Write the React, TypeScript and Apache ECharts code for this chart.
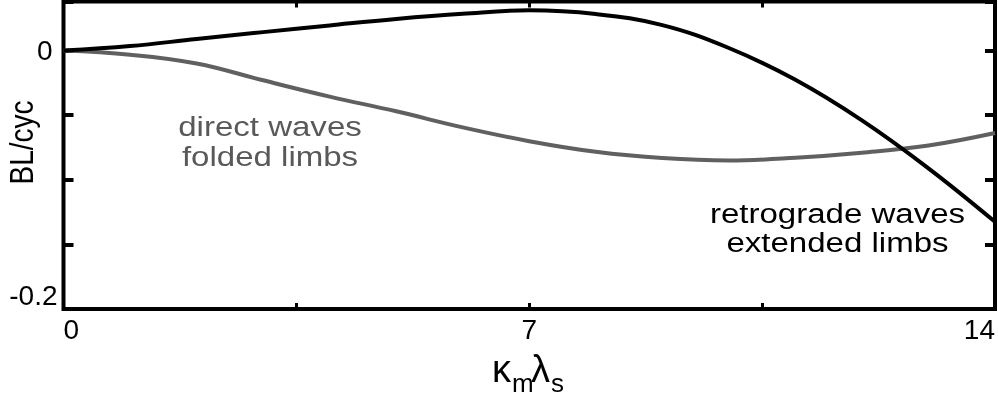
import React, { useEffect, useRef } from "react";
import * as echarts from "echarts";

const kmls = [0, 1, 2, 3, 4, 5, 6, 7, 8, 9, 10, 11, 12, 13, 14];
const retrogradeBL = [0, 0.0035, 0.009, 0.0143, 0.0195, 0.0245, 0.0285, 0.0312, 0.0283, 0.0197, 0.002, -0.0226, -0.054, -0.0911, -0.1325];
const directBL = [0, -0.0032, -0.01, -0.023, -0.0356, -0.047, -0.0594, -0.0701, -0.0783, -0.0832, -0.0851, -0.083, -0.0791, -0.0735, -0.0638];
const xLabelValues = [0, 7, 14];
const yLabelValues = [0, -0.2];

const FONT = "'Liberation Sans', Arial, Helvetica, sans-serif";

export default function App() {
  const ref = useRef<HTMLDivElement>(null);
  useEffect(() => {
    if (!ref.current) return;
    const chart = echarts.init(ref.current, null, { renderer: "svg" });
    const tickStyleX = { show: true, inside: true, length: 6, lineStyle: { color: "#000", width: 3 } };
    const tickStyleY = { show: true, inside: true, length: 10, lineStyle: { color: "#000", width: 4 } };
    const nameMain = { fontSize: 38, fontFamily: FONT, fill: "#000", align: "left", verticalAlign: "middle" };
    const nameSub = { fontSize: 26, fontFamily: FONT, fill: "#000", align: "left", verticalAlign: "middle" };
    const option: any = {
      animation: false,
      grid: {
        left: 63.5, right: 3, top: 1.5, bottom: 97,
        show: true, borderColor: "#000", borderWidth: 4, backgroundColor: "transparent",
        outerBoundsMode: "none",
      },
      xAxis: [
        {
          type: "value", min: 0, max: 14, interval: 3.5, position: "bottom",
          axisLine: { show: false, onZero: false },
          axisTick: tickStyleX,
          splitLine: { show: false },
          axisLabel: {
            show: true, margin: 6, fontSize: 28, fontFamily: FONT, color: "#000",
            alignMinLabel: "left", alignMaxLabel: "right",
            formatter: (v: number) => (xLabelValues.some((t) => Math.abs(t - v) < 1e-9) ? String(v) : ""),
          },
        },
        {
          type: "value", min: 0, max: 14, interval: 3.5, position: "top",
          axisLine: { show: false, onZero: false },
          axisTick: tickStyleX,
          splitLine: { show: false },
          axisLabel: { show: false },
        },
      ],
      yAxis: [
        {
          type: "value", min: -0.2, max: 0.038, interval: 0.05, position: "left",
          axisLine: { show: false, onZero: false },
          axisTick: tickStyleY,
          splitLine: { show: false },
          axisLabel: {
            show: true, margin: 6, fontSize: 28, fontFamily: FONT, color: "#000",
            verticalAlignMinLabel: "bottom",
            formatter: (v: number) => {
              if (Math.abs(v) < 1e-9 && yLabelValues.includes(0)) return "{p|0}";
              if (Math.abs(v - yLabelValues[1]) < 1e-9) return String(yLabelValues[1]);
              return "";
            },
            rich: { p: { fontSize: 28, fontFamily: FONT, color: "#000", padding: [0, 5, 0, 0] } },
          },
        },
        {
          type: "value", min: -0.2, max: 0.038, interval: 0.05, position: "right",
          axisLine: { show: false, onZero: false },
          axisTick: tickStyleY,
          splitLine: { show: false },
          axisLabel: { show: false },
        },
      ],
      series: [
        {
          name: "direct waves folded limbs",
          type: "line",
          data: kmls.map((x, i) => [x, directBL[i]]),
          smooth: 0.4,
          showSymbol: false,
          lineStyle: { color: "#606060", width: 4 },
          z: 2,
        },
        {
          name: "retrograde waves extended limbs",
          type: "line",
          data: kmls.map((x, i) => [x, retrogradeBL[i]]),
          smooth: 0.4,
          showSymbol: false,
          lineStyle: { color: "#000", width: 4 },
          z: 3,
        },
      ],
      graphic: [
        {
          type: "text", x: 21.5, y: 142.5, rotation: Math.PI / 2, scaleY: 1.18,
          style: { text: "BL/cyc", fontSize: 28, fontFamily: FONT, fill: "#000", align: "center", verticalAlign: "middle" },
        },
        { type: "text", x: 492, y: 369, style: { ...nameMain, text: "κ" } },
        { type: "text", x: 512, y: 383, style: { ...nameSub, text: "m" } },
        { type: "text", x: 531, y: 369, style: { ...nameMain, text: "λ" } },
        { type: "text", x: 551, y: 383, style: { ...nameSub, text: "s" } },
        {
          type: "text", x: 270, y: 140.6, scaleX: 1.18,
          style: { text: "direct waves\nfolded limbs", fontSize: 28, lineHeight: 30, fontFamily: FONT, fill: "#595959", align: "center", verticalAlign: "middle" },
        },
        {
          type: "text", x: 837.5, y: 227.4, scaleX: 1.18,
          style: { text: "retrograde waves\nextended limbs", fontSize: 28, lineHeight: 29, fontFamily: FONT, fill: "#000", align: "center", verticalAlign: "middle" },
        },
      ],
    };
    chart.setOption(option);
    return () => chart.dispose();
  }, []);
  return <div ref={ref} style={{ position: "fixed", left: 0, top: 0, width: 998, height: 406 }} />;
}
